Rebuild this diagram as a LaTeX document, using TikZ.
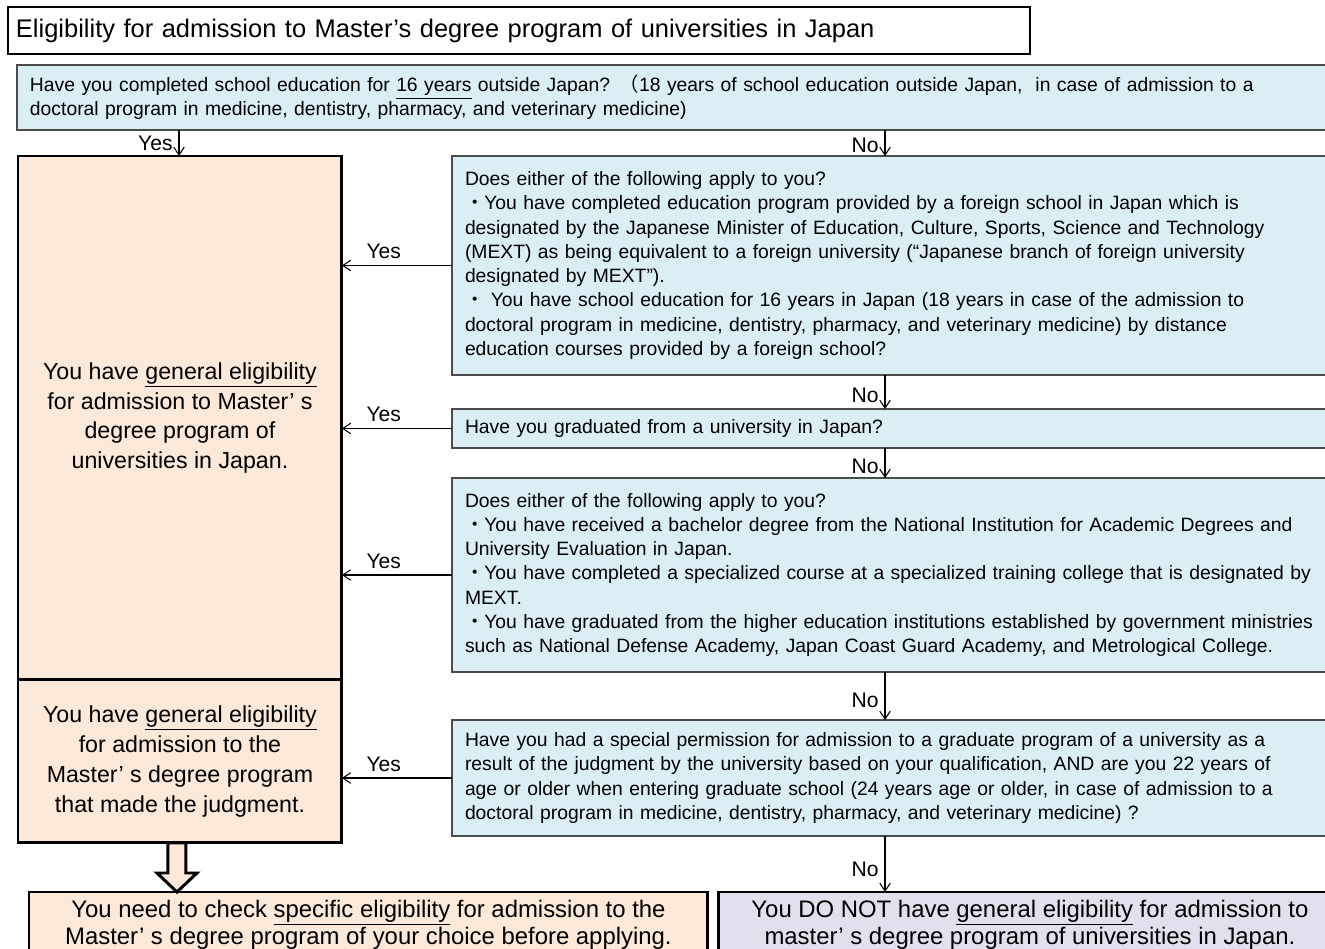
\documentclass[tikz,border=0pt]{standalone}
\usepackage{fontspec}
\setmainfont{Liberation Sans}
\newfontfamily\jpfont{Noto Sans CJK JP}
\usepackage{tikz}
\usetikzlibrary{calc}
\usetikzlibrary{arrows.meta}
\tikzset{>={Straight Barb[length=4.5pt,width=6pt]}}
\usepackage{xcolor}
\definecolor{qblue}{HTML}{DAEEF3}
\definecolor{peach}{HTML}{FDE9D9}
\definecolor{lilac}{HTML}{E4DFEC}
\colorlet{qline}{black!70}
\tikzstyle{titlebox}=[draw,line width=0.85pt,anchor=north west,outer sep=0pt,minimum height=0.94cm,text width=20.12cm,inner xsep=0.16cm,align=left,font=\fontsize{14.5}{16}\selectfont]
\tikzstyle{question}=[draw=qline,line width=0.8pt,fill=qblue,anchor=north west,outer sep=0pt,text width=18cm,inner xsep=0.26cm,align=left,font=\fontsize{11}{13.8}\selectfont]
\tikzstyle{answer}=[draw,line width=1.7pt,fill=peach,anchor=north west,outer sep=0pt,align=center,font=\fontsize{13.2}{17}\selectfont]
\tikzstyle{flow}=[->,line width=0.6pt]
\tikzstyle{reply}=[font=\fontsize{12}{14}\selectfont]
\newcommand{\nakaguro}{{\jpfont ・}}

\begin{document}
\begin{tikzpicture}[x=0.02cm,y=-0.02cm,line join=miter]
  \useasboundingbox (0,0) rectangle (1325,949);
  \fill[white] (0,0) rectangle (1325,949);
  \coordinate (yesx) at (179,0);
  \coordinate (nox) at (885,0);

  \node[titlebox] (title) at (8,7) {Eligibility for admission to Master’s degree program of universities in Japan};

  % questions
  \node[question,text width=26cm,minimum height=1.3cm] (q1) at (17,65)
    {Have you completed school education for \underline{16 years} outside Japan? {\jpfont （}18 years of school education outside Japan,~ in case of admission to a\\
     doctoral program in medicine, dentistry, pharmacy, and veterinary medicine)};
  \node[question,minimum height=4.38cm] (q2) at (452,156)
    {Does either of the following apply to you?\\
     \nakaguro You have completed education program provided by a foreign school in Japan which is\\
     designated by the Japanese Minister of Education, Culture, Sports, Science and Technology\\
     (MEXT) as being equivalent to a foreign university (“Japanese branch of foreign university\\
     designated by MEXT”).\\
     \nakaguro\ You have school education for 16 years in Japan (18 years in case of the admission to\\
     doctoral program in medicine, dentistry, pharmacy, and veterinary medicine) by distance\\
     education courses provided by a foreign school?};
  \node[question,minimum height=0.78cm] (q3) at (452,409)
    {Have you graduated from a university in Japan?};
  \node[question,minimum height=3.88cm] (q4) at (452,478)
    {Does either of the following apply to you?\\
     \nakaguro You have received a bachelor degree from the National Institution for Academic Degrees and\\
     University Evaluation in Japan.\\
     \nakaguro You have completed a specialized course at a specialized training college that is designated by\\
     MEXT.\\
     \nakaguro You have graduated from the higher education institutions established by government ministries\\
     such as National Defense Academy, Japan Coast Guard Academy, and Metrological College.};
  \node[question,minimum height=2.32cm] (q5) at (452,720)
    {Have you had a special permission for admission to a graduate program of a university as a\\
     result of the judgment by the university based on your qualification, AND are you 22 years of\\
     age or older when entering graduate school (24 years age or older, in case of admission to a\\
     doctoral program in medicine, dentistry, pharmacy, and veterinary medicine) ?};

  % answers
  \node[answer,minimum width=6.48cm,minimum height=10.48cm] (g1) at (18,156)
    {You have \underline{general eligibility}\\ for admission to Master’ s\\ degree program of\\ universities in Japan.};
  \node[answer,minimum width=6.48cm,minimum height=3.26cm] (g2) at (g1.south west)
    {You have \underline{general eligibility}\\ for admission to the\\ Master’ s degree program\\ that made the judgment.};
  \node[answer,minimum width=13.58cm,minimum height=1.3cm,font=\fontsize{13.6}{15.3}\selectfont] (b1) at (29,892)
    {You need to check \underline{specific eligibility} for admission to the\\ Master’ s degree program of your choice before applying.};
  \node[answer,fill=lilac,minimum width=12.48cm,minimum height=1.3cm,font=\fontsize{13.6}{15.3}\selectfont] (b2) at (718,892)
    {You DO NOT have \underline{general eligibility} for admission to\\ master’ s degree program of universities in Japan.};

  % connectors
  \draw[flow] (q1.south -| yesx) -- (g1.north -| yesx) node[reply,midway,left] {Yes};
  \foreach \from/\to in {q2/g1,q3/g1,q4/g1,q5/g2}
    \draw[flow] (\from.west) -- (\from.west -| \to.east) node[reply,pos=0.62,above] {Yes};
  \foreach \from/\to in {q1/q2,q2/q3,q3/q4,q4/q5,q5/b2}
    \draw[flow] (\from.south -| nox) -- (\to.north -| nox) node[reply,pos=0.6,left] {No};

  % hollow arrow down to b1
  \coordinate (base) at ($(g2.south)+(-3,0)$);
  \coordinate (tip) at ($(b1.north -| g2.south)+(-3,0)$);
  \draw[line width=1.7pt,fill=peach] ($(base)+(-9,0)$) -- ($(tip)+(-9,-19)$) -- ($(tip)+(-20,-19)$)
    -- (tip) -- ($(tip)+(20,-19)$) -- ($(tip)+(9,-19)$) -- ($(base)+(9,0)$) -- cycle;
\end{tikzpicture}
\end{document}
